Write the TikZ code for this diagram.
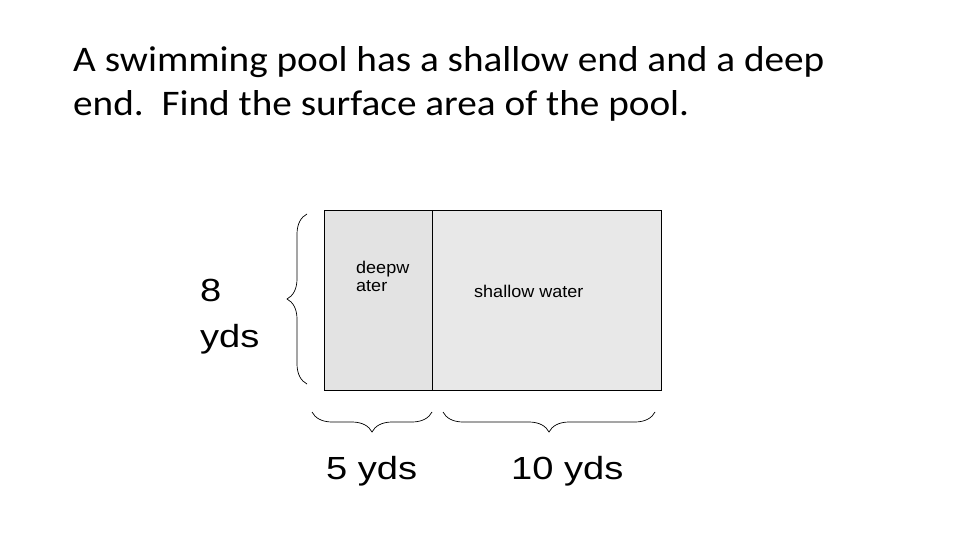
\documentclass[tikz,border=0pt]{standalone}
\usepackage{fontspec}
\usetikzlibrary{decorations.pathreplacing}
\newfontfamily\titlefont[FakeStretch=1.09]{Carlito}
\newfontfamily\labelfont[FakeStretch=1.19]{Liberation Sans}
\newfontfamily\smallfont[FakeStretch=1.06]{Liberation Sans}

\tikzset{
  txt/.style={inner sep=0pt, anchor=base west},
  bigtxt/.style={txt, font=\labelfont\fontsize{32}{32}\selectfont},
  pooltxt/.style={txt, font=\smallfont\fontsize{17}{17}\selectfont},
  curly/.style={decorate, decoration={brace, amplitude=20pt}, line width=0.7pt}
}

\begin{document}
\begin{tikzpicture}[x=1pt, y=-1pt]
    \useasboundingbox (0,0) rectangle (960,540);
    % title
    \node[txt, font=\titlefont\fontsize{36}{36}\selectfont] (title1) at (73,72)
      {A swimming pool has a shallow end and a deep};
    \node[txt, font=\titlefont\fontsize{36}{36}\selectfont] (title2) at (73,116)
      {end.\ \ Find the surface area of the pool.};
    % pool
    \fill[black!11] (324,210) rectangle (432,390);
    \fill[black!9] (432,210) rectangle (661,390);
    \draw[line width=1pt] (324,210) rectangle (661,390);
    \draw[line width=1pt] (432,210) -- (432,390);
    \node[pooltxt] (deep1) at (356,273) {deepw};
    \node[pooltxt] (deep2) at (356,291) {ater};
    \node[pooltxt] (shallow) at (474,297) {shallow water};
    % braces
    \draw[curly] (307,384) -- (307,214);
    \draw[curly, decoration={mirror}] (312,412) -- (432,412);
    \draw[curly, decoration={mirror}] (443,412) -- (655,412);
    \node[bigtxt] (width8a) at (200,301) {8};
    \node[bigtxt] (width8b) at (200,347) {yds};
    \node[bigtxt] (len5) at (326,479) {5 yds};
    \node[bigtxt] (len10) at (511,479) {10 yds};
\end{tikzpicture}
\end{document}
